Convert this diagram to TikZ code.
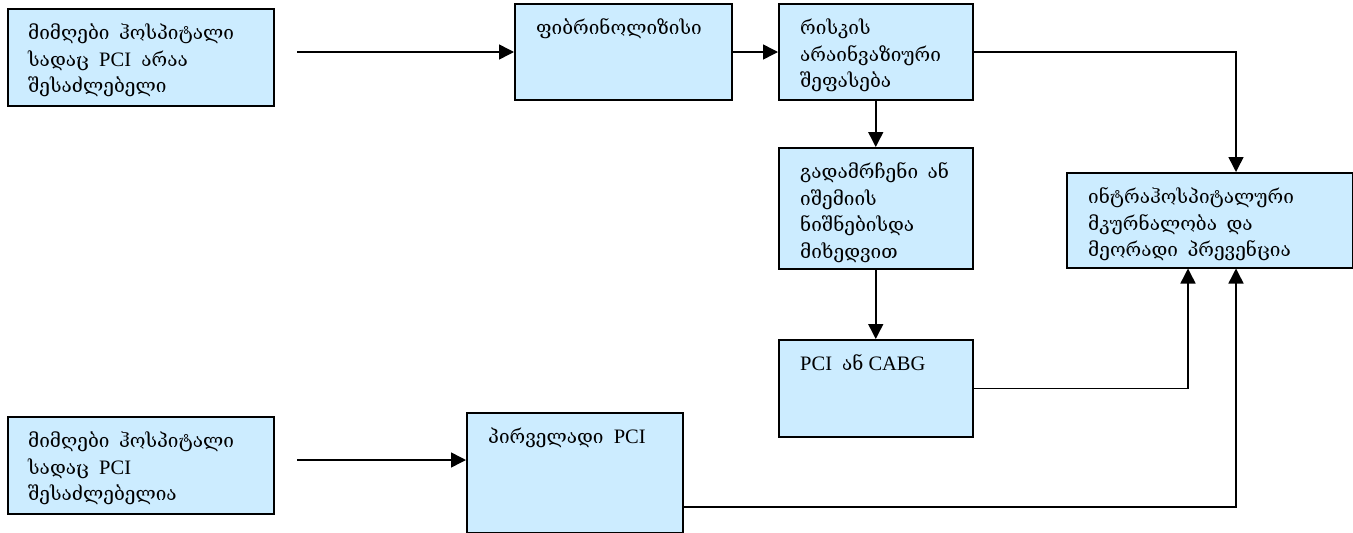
\documentclass[tikz,border=0pt]{standalone}
\usepackage{fontspec}
\setmainfont{Liberation Serif}
\newfontfamily\geofont{DejaVu Serif}
% wider gaps between words
\newcommand{\widegap}{\spaceskip 0.5em\relax}
\newcommand{\ka}[1]{{\geofont\fontsize{19}{26.5}\selectfont\widegap #1}}
\newcommand{\boxtextfont}{\fontsize{20.5}{26.5}\selectfont\widegap}
\usetikzlibrary{arrows.meta,calc}
\definecolor{boxfill}{HTML}{CCECFF}
\tikzset{
  box/.style={draw=black, line width=1.5pt, fill=boxfill, inner sep=0pt},
  txt/.style={anchor=north west, inner sep=0pt, align=left, font=\boxtextfont},
  link/.style={line width=1.5pt, -{Triangle[length=15pt,width=15pt]}},
}
\newcommand{\boxat}[5]{% name, x1, y1, x2, y2
  \node[box, anchor=north west, minimum width=#4-#2, minimum height=#5-#3] (#1) at (#2,#3) {};}
\begin{document}
\begin{tikzpicture}[x=1pt,y=-1pt]
\useasboundingbox (0,0) rectangle (1353,533);
% boxes
\boxat{b1}{7}{8}{273}{105}
\boxat{b2}{514}{3}{731}{99}
\boxat{b3}{778}{3}{972}{99}
\boxat{b4}{778}{147}{972}{268}
\boxat{b5}{1066}{172}{1352}{267}
\boxat{b6}{778}{339}{972}{436}
\boxat{b7}{7}{416}{273}{513}
\boxat{b8}{466}{412}{682}{532}
% texts
\node[txt] (t1) at ($(b1.north west)+(21,13)$) {\strut\ka{მიმღები ჰოსპიტალი}\\\ka{სადაც} PCI \ka{არაა}\\\ka{შესაძლებელი}};
\node[txt] (t2) at ($(b2.north west)+(22,13)$) {\strut\ka{ფიბრინოლიზისი}};
\node[txt] (t3) at ($(b3.north west)+(22,13)$) {\strut\ka{რისკის}\\\ka{არაინვაზიური}\\\ka{შეფასება}};
\node[txt] (t4) at ($(b4.north west)+(22,13)$) {\strut\ka{გადამრჩენი ან}\\\ka{იშემიის}\\\ka{ნიშნებისდა}\\\ka{მიხედვით}};
\node[txt] (t5) at ($(b5.north west)+(22,13)$) {\strut\ka{ინტრაჰოსპიტალური}\\\ka{მკურნალობა და}\\\ka{მეორადი პრევენცია}};
\node[txt] (t6) at ($(b6.north west)+(22,13)$) {\strut PCI\hspace{10pt}\ka{ან}\hspace{5pt}CABG};
\node[txt] (t7) at ($(b7.north west)+(21,13)$) {\strut\ka{მიმღები ჰოსპიტალი}\\\ka{სადაც} PCI\\\ka{შესაძლებელია}};
\node[txt] (t8) at ($(b8.north west)+(22,13)$) {\strut\ka{პირველადი} PCI};
% connector ends
\coordinate (s1) at (297,52);
\coordinate (s2) at (297,460);
\coordinate (c1) at (1188,0);
\coordinate (c2) at (1236,0);
% connectors
\draw[link] (s1) -- (s1 -| b2.west);
\draw[link] (s1 -| b2.east) -- (s1 -| b3.west);
\draw[link] (s1 -| b3.east) -| (c2 |- b5.north);
\draw[link] (b3.south) -- (b4.north);
\draw[link] (b4.south) -- (b6.north);
\draw[link] (b6.east) -| (c1 |- b5.south);
\draw[link] (b8.east |- 0,507) -| (c2 |- b5.south);
\draw[link] (s2) -- (s2 -| b8.west);
\end{tikzpicture}
\end{document}
